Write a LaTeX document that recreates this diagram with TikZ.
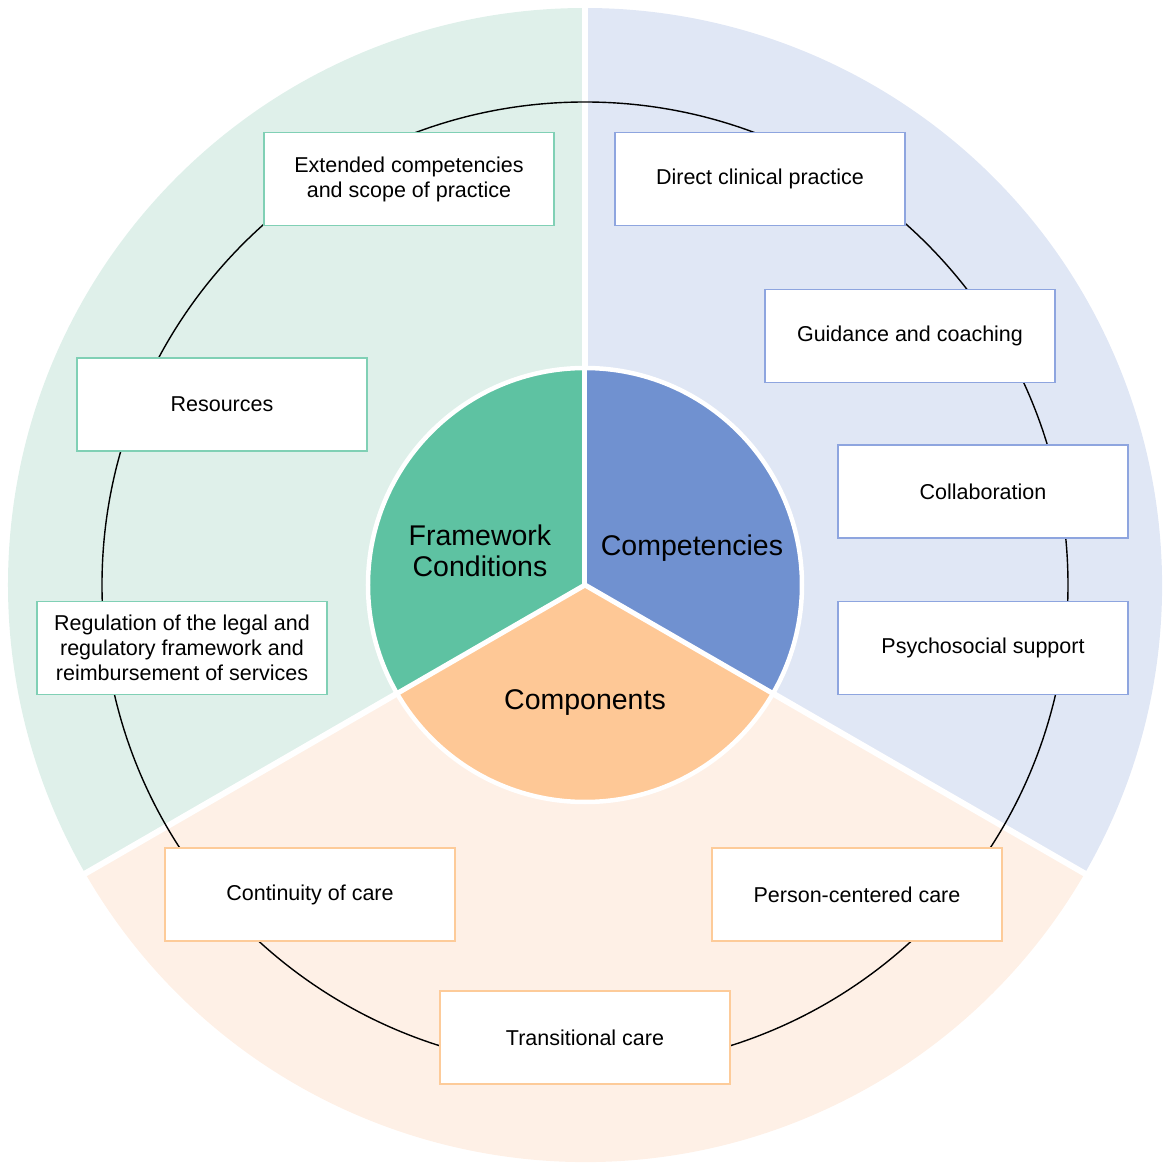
\documentclass[tikz,border=0pt]{standalone}
\usepackage{fontspec}
\setmainfont{Liberation Sans}
\definecolor{outgreen}{HTML}{DFF0EA}
\definecolor{outblue}{HTML}{E0E7F5}
\definecolor{outorange}{HTML}{FEF0E6}
\definecolor{ingreen}{HTML}{5EC2A2}
\definecolor{inblue}{HTML}{7091D0}
\definecolor{inorange}{HTML}{FEC896}
\definecolor{bgreen}{HTML}{80D0B5}
\definecolor{bblue}{HTML}{8EA5DF}
\definecolor{borange}{HTML}{FDCB99}
\tikzset{
  itembox/.style={draw, fill=white, line width=1.8pt, minimum width=290pt, minimum height=93pt,
    align=center, inner sep=0pt, font=\fontsize{21.5}{25}\selectfont},
  gbox/.style={itembox, draw=bgreen},
  bbox/.style={itembox, draw=bblue},
  obox/.style={itembox, draw=borange},
  centerlabel/.style={align=center, font=\fontsize{28.5}{31}\selectfont}
}
\begin{document}
\begin{tikzpicture}[x=1pt,y=1pt]
\useasboundingbox (-585,-585) rectangle (585,585);
% outer sectors
\fill[outgreen] (0,0) -- (90:577) arc[start angle=90,end angle=210,radius=577] -- cycle;
\fill[outblue] (0,0) -- (-30:577) arc[start angle=-30,end angle=90,radius=577] -- cycle;
\fill[outorange] (0,0) -- (210:577) arc[start angle=210,end angle=330,radius=577] -- cycle;
\foreach \a in {90,210,330} \draw[white, line width=6pt] (0,0) -- (\a:582);
% ring
\draw[line width=1.4pt] (0,0) circle[radius=483];
% inner sectors
\fill[ingreen] (0,0) -- (90:217) arc[start angle=90,end angle=210,radius=217] -- cycle;
\fill[inblue] (0,0) -- (-30:217) arc[start angle=-30,end angle=90,radius=217] -- cycle;
\fill[inorange] (0,0) -- (210:217) arc[start angle=210,end angle=330,radius=217] -- cycle;
\foreach \a in {90,210,330} \draw[white, line width=5pt] (0,0) -- (\a:217);
\draw[white, line width=4.5pt] (0,0) circle[radius=217];
% center labels
\node[centerlabel] (fc) at (-105,34) {Framework\\Conditions};
\node[centerlabel] (comp) at (107,37) {Competencies};
\node[centerlabel] (cmpn) at (0,-118) {Components};
% boxes
\node[gbox] (ext) at (-176,406) {Extended competencies\\and scope of practice};
\node[gbox] (res) at (-363,180.5) {Resources};
\node[gbox] (reg) at (-403,-63) {Regulation of the legal and\\regulatory framework and\\reimbursement of services};
\node[bbox] (dir) at (175,406) {Direct clinical practice};
\node[bbox] (guid) at (325,249) {Guidance and coaching};
\node[bbox] (coll) at (398,93.5) {Collaboration};
\node[bbox] (psy) at (398,-63) {Psychosocial support};
\node[obox] (cont) at (-275,-309.5) {Continuity of care};
\node[obox] (pers) at (272,-309.5) {Person-centered care};
\node[obox] (trans) at (0,-452.5) {Transitional care};
\end{tikzpicture}
\end{document}
